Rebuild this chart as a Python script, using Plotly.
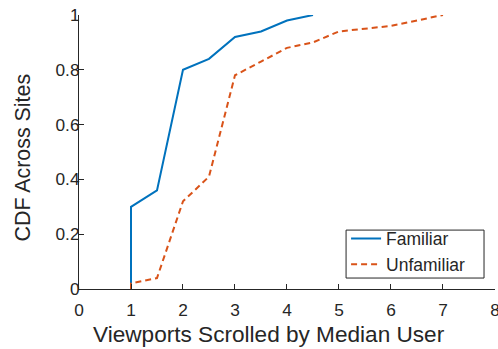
import plotly.graph_objects as go

# Viewports scrolled (x) and cumulative share of sites (y)
familiar_x = [1, 1, 1.5, 2, 2.5, 3, 3.5, 4, 4.5]
familiar_y = [0, 0.30, 0.36, 0.80, 0.84, 0.92, 0.94, 0.98, 1.00]

unfamiliar_x = [1, 1, 1.5, 2, 2.5, 3, 3.5, 4, 4.5, 5, 6, 7]
unfamiliar_y = [0, 0.02, 0.04, 0.32, 0.41, 0.78, 0.83, 0.88, 0.90, 0.94, 0.96, 1.00]

x_ticks = [0, 1, 2, 3, 4, 5, 6, 7, 8]
y_ticks = [0, 0.2, 0.4, 0.6, 0.8, 1]
y_tick_text = ["0", "0.2", "0.4", "0.6", "0.8", "1"]

x_title = "Viewports Scrolled by Median User"
y_title = "CDF Across Sites"

font = "Liberation Sans, Arial, sans-serif"
ink = "#262626"

fig = go.Figure()
fig.add_trace(go.Scatter(x=familiar_x, y=familiar_y, mode="lines", name="Familiar",
                         line=dict(color="#0072BD", width=2)))
fig.add_trace(go.Scatter(x=unfamiliar_x, y=unfamiliar_y, mode="lines", name="Unfamiliar",
                         line=dict(color="#D95319", width=2, dash="6px,4px")))

axis_common = dict(showgrid=False, zeroline=False, showline=True, linecolor=ink, linewidth=1,
                   ticks="inside", ticklen=5, tickcolor=ink, ticklabeloverflow="allow",
                   automargin=False,
                   tickfont=dict(family=font, size=17.3, color=ink), mirror=False)

fig.update_layout(
    width=498, height=349,
    margin=dict(l=79, r=3, t=15, b=60, autoexpand=False),
    paper_bgcolor="white", plot_bgcolor="white",
    font=dict(family=font, color=ink),
    xaxis=dict(range=[0, 8.0005], tickvals=x_ticks, ticklabelstandoff=5, **axis_common),
    yaxis=dict(range=[0, 1], tickvals=y_ticks, ticktext=y_tick_text, ticklabelstandoff=-5,
               **axis_common),
    legend=dict(x=0.642, y=0.25, xanchor="left", yanchor="top", bgcolor="rgba(0,0,0,0)",
                borderwidth=0, font=dict(family=font, size=17.5, color=ink),
                tracegroupgap=0, itemwidth=30),
    showlegend=True,
    shapes=[
        # legend frame
        dict(type="rect", xref="paper", yref="paper", x0=0.642, x1=0.9736, y0=0.040, y1=0.215,
             line=dict(color=ink, width=1), fillcolor="white", layer="below"),
    ],
    annotations=[
        dict(text=x_title, xref="paper", yref="paper", x=0.457, y=-0.165,
             xanchor="center", yanchor="middle", showarrow=False,
             font=dict(family=font, size=22.6, color=ink)),
        dict(text=y_title, xref="paper", yref="paper", x=-0.1346, y=0.48, textangle=-90,
             xanchor="center", yanchor="middle", showarrow=False,
             font=dict(family=font, size=21.4, color=ink)),
    ],
)

fig.write_html("out.html")
